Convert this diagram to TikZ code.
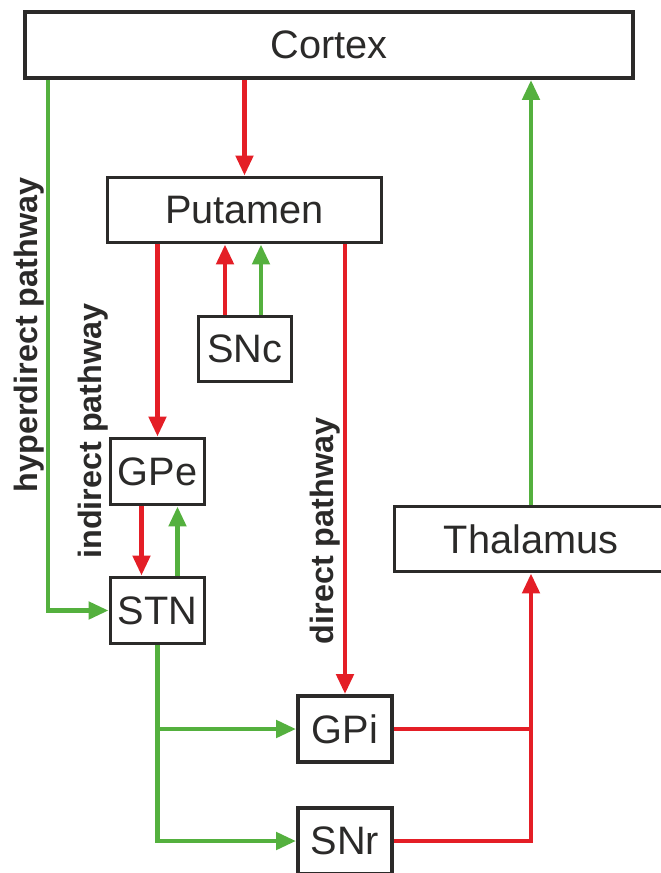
\documentclass[tikz,border=0pt]{standalone}
\usepackage{fontspec}
\setmainfont{Liberation Sans}
\usepackage{xcolor}
\usepackage{tikz}
\usetikzlibrary{calc,arrows.meta,positioning}
\definecolor{bgred}{RGB}{228,30,38}
\definecolor{bggreen}{RGB}{84,176,62}
\definecolor{bgdark}{RGB}{43,42,41}

\begin{document}
\begin{tikzpicture}[x=0.02cm,y=-0.02cm]
    \tikzset{nb/.style={draw=bgdark,line width=2.2pt,fill=white,text=bgdark,inner sep=0pt,anchor=center,font=\fontsize{22.6}{26}\selectfont},
             ra/.style={draw=bgred,line width=2.7pt,-{Triangle[length=0.4cm,width=0.34cm]}},
             ga/.style={draw=bggreen,line width=2.7pt,-{Triangle[length=0.4cm,width=0.34cm]}},
             pw/.style={rotate=90,text=bgdark,font=\bfseries\fontsize{18.4}{21}\selectfont}}
    \useasboundingbox[fill=white] (0,0) rectangle (661,873);
    % boxes
    \node[nb,minimum width=12.16cm,minimum height=1.32cm] (cortex) at (329,45) {Cortex};
    \node[nb,minimum width=5.48cm,minimum height=1.3cm] (putamen) at (244.5,210) {Putamen};
    \node[nb,minimum width=1.86cm,minimum height=1.3cm] (snc) at (245,349) {SNc};
    \node[nb,minimum width=1.88cm,minimum height=1.32cm] (gpe) at (157.5,471.5) {GPe};
    \node[nb,minimum width=1.88cm,minimum height=1.32cm] (stn) at (157.5,610.5) {STN};
    \node[nb,minimum width=1.88cm,minimum height=1.32cm] (gpi) at (345,729) {GPi};
    \node[nb,minimum width=1.88cm,minimum height=1.32cm] (snr) at (345,841) {SNr};
    \node[nb,minimum width=5.46cm,minimum height=1.3cm] (thalamus) at (531,539) {Thalamus};
    % pathway labels
    \node[pw] (hyperlabel) at (29,335) {hyperdirect pathway};
    \node[pw] (indirlabel) at (93,431) {indirect pathway};
    \node[pw] (dirlabel) at (325,531) {direct pathway};
    \coordinate (hyp) at (48,610.5);
    % connectors
    \draw[ra] (cortex.south -| putamen.north) -- (putamen.north);
    \draw[ga] (hyp |- cortex.south) -- (hyp) -- (stn.west);
    \draw[ra] (putamen.south -| gpe.north) -- (gpe.north);
    \draw[ra] ($(snc.north)+(-20,0)$) -- ($(snc.north |- putamen.south)+(-20,0)$);
    \draw[ga] ($(snc.north)+(16,0)$) -- ($(snc.north |- putamen.south)+(16,0)$);
    \draw[ra] (putamen.south -| gpi.north) -- (gpi.north);
    \draw[ra] ($(gpe.south)+(-16,0)$) -- ($(gpe.south |- stn.north)+(-16,0)$);
    \draw[ga] ($(stn.north)+(20,0)$) -- ($(stn.north |- gpe.south)+(20,0)$);
    \draw[ga] (stn.south) |- (snr.west);
    \draw[ga] (stn.south |- gpi.west) -- (gpi.west);
    \draw[ra] (snr.east) -| (thalamus.south);
    \draw[draw=bgred,line width=2.7pt] (gpi.east) -- (gpi.east -| thalamus.south);
    \draw[ga] (thalamus.north) -- (thalamus.north |- cortex.south);
  \end{tikzpicture}
\end{document}
